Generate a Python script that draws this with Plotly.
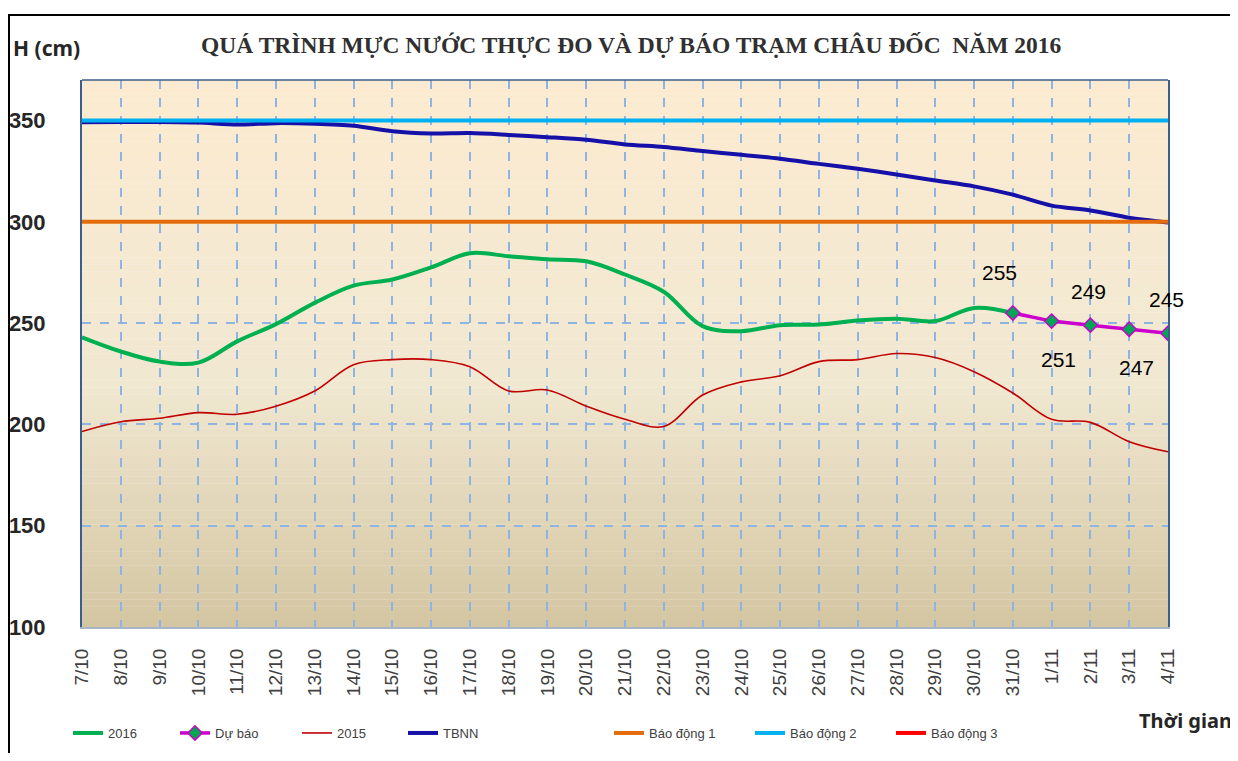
import plotly.graph_objects as go

# ---------------- data ----------------
dates = ["7/10", "8/10", "9/10", "10/10", "11/10", "12/10", "13/10", "14/10", "15/10",
         "16/10", "17/10", "18/10", "19/10", "20/10", "21/10", "22/10", "23/10", "24/10",
         "25/10", "26/10", "27/10", "28/10", "29/10", "30/10", "31/10",
         "1/11", "2/11", "3/11", "4/11"]

# observed 2016 (7/10 .. 31/10)
h2016 = [243, 236, 231, 230.5, 241, 249.5, 260, 268.5, 271.5, 277.5, 284.5, 283, 281.5,
         280.5, 274, 265.5, 248.5, 246, 249, 249.3, 251.3, 252.2, 251, 257.5, 255]

# forecast (31/10 .. 4/11)
forecast_dates = ["31/10", "1/11", "2/11", "3/11", "4/11"]
forecast = [255, 251, 249, 247, 245]
forecast_label_pos = ["above", "below", "above", "below", "above"]

h2015 = [196.5, 201.3, 203, 205.8, 205, 209, 216.5, 229.5, 232, 232, 228.5, 216.5, 217,
         209, 202.5, 199, 214.5, 221, 224, 231, 232, 235, 233, 226, 215.5,
         202.5, 201, 191.5, 186.5]

tbnn = [349.2, 349.3, 349.3, 349, 348, 348.7, 348.4, 347.4, 344.7, 343.6, 343.8, 342.9,
        341.8, 340.5, 338.2, 336.9, 334.9, 333.1, 331.1, 328.6, 326.2, 323.4, 320.4,
        317.5, 313.4, 308, 305.6, 302, 299.7]

alarm_levels = [300, 350, 400]
alarm_names = ["Báo động 1", "Báo động 2", "Báo động 3"]

y_ticks = [100, 150, 200, 250, 300, 350]

# ---------------- styling ----------------
C_GREEN = "#00B050"
C_MAG = "#CC00CC"
C_RED15 = "#C00000"
C_TBNN = "#1410A8"
C_ALARM = ["#E46C0A", "#00B0F0", "#FF0000"]
GRID = "#8DB4E2"

# page offset (default body margin) and figure size
OFF = 8
W, H = 1230, 745
# plot-area geometry in page pixels
L, R, T, B = 82, 1168, 80, 627
PW, PH = R - L, B - T


def px_x(p):
    return (p - L) / PW


def px_y(p):
    return (B - p) / PH


def cx(p):
    return (p - OFF) / W


def cy(p):
    return 1 - (p - OFF) / H


fig = go.Figure()

legend_font = dict(family="Arial, Liberation Sans, sans-serif", size=13, color="#404040")

traces = []
traces.append(go.Scatter(x=dates[:len(h2016)], y=h2016, name="2016", mode="lines",
                         line=dict(color=C_GREEN, width=4, shape="spline", smoothing=1)))
traces.append(go.Scatter(x=forecast_dates, y=forecast, name="Dự báo", mode="lines+markers",
                         line=dict(color=C_MAG, width=3.5),
                         marker=dict(symbol="diamond", size=11, color="#00A651",
                                     line=dict(color=C_MAG, width=1.5))))
traces.append(go.Scatter(x=dates, y=h2015, name="2015", mode="lines",
                         line=dict(color=C_RED15, width=1.6, shape="spline", smoothing=1)))
traces.append(go.Scatter(x=dates, y=tbnn, name="TBNN", mode="lines",
                         line=dict(color=C_TBNN, width=4, shape="spline", smoothing=0.8)))
for lvl, nm, col in zip(alarm_levels, alarm_names, C_ALARM):
    traces.append(go.Scatter(x=dates, y=[lvl] * len(dates), name=nm, mode="lines",
                             line=dict(color=col, width=4)))

# legend text start positions (page px) for each item
legend_text_px = [108, 215, 337, 443, 649, 790, 931]
draw_order = [2, 3, 0, 1, 4, 5, 6]
legend_layout = {}
for i, tr in enumerate(traces):
    key = "legend" if i == 0 else f"legend{i + 1}"
    tr.legend = key
    legend_layout[key] = dict(
        x=cx(legend_text_px[i] - 40), xanchor="left", xref="container",
        y=cy(733), yanchor="middle", yref="container",
        orientation="h", bgcolor="rgba(0,0,0,0)", font=legend_font,
        borderwidth=0, tracegroupgap=0,
    )
for idx in draw_order:
    fig.add_trace(traces[idx])

# gradient background in plot area
stops = [(0.0, (252, 235, 208)), (0.55, (241, 232, 210)), (1.0, (212, 198, 162))]
N = 80
shapes = []
for k in range(N):
    f = (k + 0.5) / N  # fraction from top
    for (a, ca), (b, cb) in zip(stops[:-1], stops[1:]):
        if a <= f <= b:
            t = (f - a) / (b - a)
            c = tuple(round(ca[j] + (cb[j] - ca[j]) * t) for j in range(3))
            break
    shapes.append(dict(type="rect", xref="paper", yref="paper", x0=0, x1=1,
                       y0=1 - (k + 1) / N, y1=1 - k / N + 0.0005, layer="below",
                       line=dict(width=0), fillcolor="rgb(%d,%d,%d)" % c))
# top border of plot
shapes.append(dict(type="line", xref="paper", yref="paper", x0=0, x1=1, y0=1, y1=1,
                   line=dict(color="#3A5F8E", width=1.5)))
# outer frame (left and top edges visible)
shapes.append(dict(type="rect", xref="paper", yref="paper",
                   x0=px_x(OFF + 1), x1=px_x(1260), y0=px_y(790), y1=px_y(15),
                   line=dict(color="black", width=2), fillcolor="rgba(0,0,0,0)"))

annotations = []
annotations.append(dict(text="<b>QUÁ TRÌNH MỰC NƯỚC THỰC ĐO VÀ DỰ BÁO TRẠM CHÂU ĐỐC  NĂM 2016</b>",
                        xref="paper", yref="paper", x=px_x(631), y=px_y(45),
                        xanchor="center", yanchor="middle", showarrow=False,
                        font=dict(family="Times New Roman, Liberation Serif, serif", size=23.5,
                                  color="#303030")))
annotations.append(dict(text="<b>H (cm)</b>", xref="paper", yref="paper", x=px_x(11), y=px_y(48),
                        xanchor="left", yanchor="middle", showarrow=False,
                        font=dict(family="Noto Sans, Open Sans, sans-serif", size=21, color="#262626")))
annotations.append(dict(text="<b>Thời gian</b>", xref="paper", yref="paper", x=px_x(1234), y=px_y(720),
                        xanchor="right", yanchor="middle", showarrow=False,
                        font=dict(family="Noto Sans, Open Sans, sans-serif", size=20, color="#262626")))
shifts = {"above": (-2, 34), "below": (7, -38)}
for i, (d, v, pos) in enumerate(zip(forecast_dates, forecast, forecast_label_pos)):
    xs, ys = shifts[pos]
    if i == 0:
        xs, ys = -13, 40
    annotations.append(dict(text=str(v), x=d, y=v, xref="x", yref="y", showarrow=False,
                            xshift=xs, yshift=ys,
                            font=dict(family="Arial, Liberation Sans, sans-serif", size=21,
                                      color="black")))

fig.update_layout(
    width=W, height=H,
    margin=dict(l=L - OFF, r=W - (R - OFF), t=T - OFF, b=H - (B - OFF), pad=0,
                autoexpand=False),
    paper_bgcolor="white",
    plot_bgcolor="rgba(0,0,0,0)",
    showlegend=True,
    shapes=shapes,
    annotations=annotations,
    **legend_layout,
)

fig.update_xaxes(
    type="category", categoryorder="array", categoryarray=dates,
    range=[0, len(dates) - 1], automargin=False,
    tickmode="array", tickvals=dates, ticktext=dates,
    tickangle=-90, ticks="", ticklabelstandoff=12,
    tickfont=dict(family="Arial, Liberation Sans, sans-serif", size=19, color="#404040"),
    showgrid=True, gridcolor=GRID, gridwidth=2, griddash="dash",
    showline=True, linecolor="#A7B6C9", linewidth=2,
    zeroline=False, fixedrange=True,
)
fig.update_yaxes(
    range=[100, 370], tickmode="array", tickvals=y_ticks, automargin=False,
    ticks="", ticklabelstandoff=30,
    tickfont=dict(family="Arial, Liberation Sans, sans-serif", size=22, color="#262626",
                  weight="bold"),
    showgrid=True, gridcolor=GRID, gridwidth=2, griddash="dash",
    showline=True, mirror=True, linecolor="#3A5F8E", linewidth=2,
    zeroline=False, fixedrange=True,
)

fig.write_html("out.html")
